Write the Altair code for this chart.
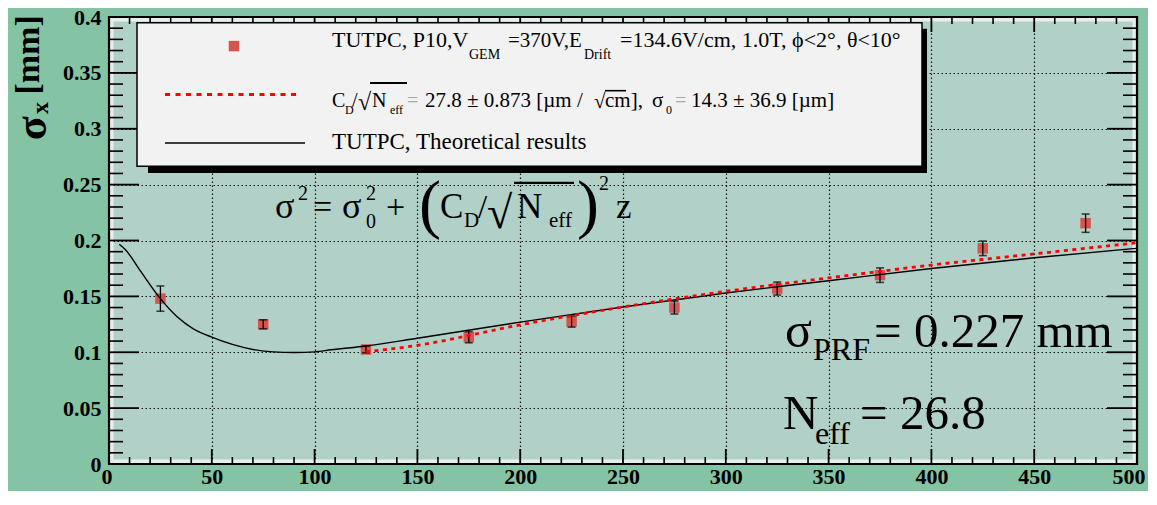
import altair as alt
import pandas as pd

# ---------------- data ----------------
z_meas = [25, 75, 125, 175, 225, 275, 325, 375, 425, 475]
sigma_meas = [0.148, 0.125, 0.1025, 0.1135, 0.1275, 0.140, 0.157, 0.169, 0.193, 0.2155]
sigma_err = [0.0113, 0.004, 0.003, 0.005, 0.005, 0.0058, 0.0058, 0.0065, 0.0065, 0.0082]

z_theory = [5, 8, 15, 25, 33, 41, 50, 60, 70, 80, 90, 100, 108, 125, 150, 200, 250, 300, 350, 400, 450, 500]
sigma_theory = [0.1967, 0.1918, 0.1735, 0.148, 0.132, 0.121, 0.1135, 0.107, 0.1025, 0.1003, 0.0998,
                0.1003, 0.1022, 0.1056, 0.1125, 0.127, 0.1405, 0.153, 0.164, 0.175, 0.1845, 0.193]

z_fit = [125, 150, 200, 250, 300, 350, 400, 450, 500]
sigma_fit = [0.1003, 0.1062, 0.1245, 0.1405, 0.1545, 0.1665, 0.178, 0.188, 0.198]

x_major = [0, 50, 100, 150, 200, 250, 300, 350, 400, 450, 500]
x_minor = [v for v in range(0, 501, 10) if v % 50]
y_major = [0, 0.05, 0.1, 0.15, 0.2, 0.25, 0.3, 0.35, 0.4]
y_minor = [round(i * 0.01, 2) for i in range(41) if i % 5]

# ---------------- layout ----------------
W, H = 1028, 447
SY = H / 461.0
SERIF = "Liberation Serif"
BG = "#85c3a5"
PLOT_BG = "#b0d0c8"
MARK_RED = "#d65450"


def X(rx):
    return rx - 109


def Y(ry):
    return (ry - 18) * SY


xs = alt.Scale(domain=[0, 500], nice=False, zero=False)
ys = alt.Scale(domain=[0, 0.4], nice=False, zero=False)

xaxis = alt.Axis(values=x_major, format="d", grid=True, ticks=False, domain=False,
                 labelFont=SERIF, labelFontSize=22, labelFontWeight="bold", labelColor="black",
                 labelPadding=2, gridColor="black", gridDash=[1.5, 2.5], gridWidth=1.2,
                 gridOpacity=0.9, labelFlush=True, labelFlushOffset=8, labelOverlap=False)
yaxis = alt.Axis(values=y_major, format=".2~f", grid=True, ticks=False, domain=False,
                 labelFont=SERIF, labelFontSize=22, labelFontWeight="bold", labelColor="black",
                 labelPadding=8, gridColor="black", gridDash=[1.5, 2.5], gridWidth=1.2,
                 gridOpacity=0.9, labelFlush=False, labelOverlap=False)


def XE(f):
    return alt.X(f, scale=xs, axis=xaxis, title=None)


def YE(f):
    return alt.Y(f, scale=ys, axis=yaxis, title=None)


meas = pd.DataFrame({"z": z_meas, "s": sigma_meas, "e": sigma_err})
meas["lo"] = meas["s"] - meas["e"]
meas["hi"] = meas["s"] + meas["e"]
theory = pd.DataFrame({"z": z_theory, "s": sigma_theory})
fit = pd.DataFrame({"z": z_fit, "s": sigma_fit})
one = pd.DataFrame({"a": [0]})

layers = []

# inner light strip of the frame
layers.append(alt.Chart(one).mark_rect(filled=False, stroke="#e6efeb", strokeWidth=4).encode(
    x=alt.value(2.5), x2=alt.value(W - 2.5), y=alt.value(2.5), y2=alt.value(H - 2.5)))

# measured points
layers.append(alt.Chart(meas).mark_square(size=110, color=MARK_RED, opacity=1).encode(
    x=XE("z:Q"), y=YE("s:Q")))
layers.append(alt.Chart(meas).mark_rule(color="black", strokeWidth=1.3).encode(
    x=XE("z:Q"), y=YE("lo:Q"), y2="hi:Q"))
layers.append(alt.Chart(meas).mark_tick(orient="horizontal", size=8, thickness=1.6, color="black").encode(
    x=XE("z:Q"), y=YE("lo:Q")))
layers.append(alt.Chart(meas).mark_tick(orient="horizontal", size=8, thickness=1.6, color="black").encode(
    x=XE("z:Q"), y=YE("hi:Q")))

# theory curve and fit
layers.append(alt.Chart(theory).mark_line(color="black", strokeWidth=1.4, interpolate="monotone").encode(
    x=XE("z:Q"), y=YE("s:Q"), order="z:Q"))
layers.append(alt.Chart(fit).mark_line(color="#ff0000", strokeWidth=2.8, strokeDash=[4, 4.5],
                                       interpolate="monotone").encode(
    x=XE("z:Q"), y=YE("s:Q"), order="z:Q"))


# ticks (ROOT style, inside)
def xticks(vals, length, width):
    df = pd.DataFrame({"v": vals})
    bot = alt.Chart(df).mark_rule(color="black", strokeWidth=width).encode(
        x=XE("v:Q"), y=alt.value(H), y2=alt.value(H - length))
    top = alt.Chart(df).mark_rule(color="black", strokeWidth=width).encode(
        x=XE("v:Q"), y=alt.value(0), y2=alt.value(length))
    return [bot, top]


def yticks(vals, length, width):
    df = pd.DataFrame({"v": vals})
    left = alt.Chart(df).mark_rule(color="black", strokeWidth=width).encode(
        y=YE("v:Q"), x=alt.value(0), x2=alt.value(length))
    right = alt.Chart(df).mark_rule(color="black", strokeWidth=width).encode(
        y=YE("v:Q"), x=alt.value(W), x2=alt.value(W - length))
    return [left, right]


layers += xticks(x_major, 15, 1.8)
layers += xticks(x_minor, 7, 1.6)
layers += yticks(y_major, 30, 1.8)
layers += yticks(y_minor, 14, 1.6)

# frame
layers.append(alt.Chart(one).mark_rect(filled=False, stroke="black", strokeWidth=2.2).encode(
    x=alt.value(0), x2=alt.value(W), y=alt.value(0), y2=alt.value(H)))

# legend box with shadow
layers.append(alt.Chart(one).mark_rect(color="black").encode(
    x=alt.value(X(148)), x2=alt.value(X(927)), y=alt.value(Y(30)), y2=alt.value(Y(179))))
layers.append(alt.Chart(one).mark_rect(fill="#f2f2f2", stroke="black", strokeWidth=1.5).encode(
    x=alt.value(X(137)), x2=alt.value(X(922)), y=alt.value(Y(24)), y2=alt.value(Y(172))))
layers.append(alt.Chart(one).mark_square(size=110, color=MARK_RED, opacity=1).encode(
    x=alt.value(X(234)), y=alt.value(Y(48))))
layers.append(alt.Chart(one).mark_rule(color="#ff0000", strokeWidth=3, strokeDash=[5, 5.5]).encode(
    x=alt.value(X(165)), x2=alt.value(X(300)), y=alt.value(Y(98))))
layers.append(alt.Chart(one).mark_rule(color="black", strokeWidth=1.5).encode(
    x=alt.value(X(165)), x2=alt.value(X(305)), y=alt.value(Y(148))))


def txt(s, rx, ry, size, weight="normal", color="black", angle=0):
    return alt.Chart(one).mark_text(text=s, font=SERIF, fontSize=size, fontWeight=weight, color=color,
                                    align="left", baseline="alphabetic", angle=angle).encode(
        x=alt.value(X(rx)), y=alt.value(Y(ry)))


def hline(rx1, rx2, ry, width=1.6):
    return alt.Chart(one).mark_rule(color="black", strokeWidth=width).encode(
        x=alt.value(X(rx1)), x2=alt.value(X(rx2)), y=alt.value(Y(ry)))


GREY = "#a8a8a8"
# legend line 1
layers += [
    txt("TUTPC, P10,V", 332, 49, 22),
    txt("GEM", 469, 61, 14),
    txt("=370V,E", 508, 49, 21),
    txt("Drift", 584, 61, 14),
    txt("=134.6V/cm, 1.0T, ϕ<2°, θ<10°", 620, 49, 22),
]
# legend line 2
layers += [
    txt("C", 332, 111, 20),
    txt("D", 345, 118, 12),
    txt("/", 352, 111, 20),
    txt("√", 358, 114, 24),
    hline(370, 407, 86, 2),
    txt("N", 372, 111, 20),
    txt("eff", 390, 118, 12),
    txt("=", 407, 111, 20, color=GREY),
    txt("27.8 ± 0.873 [µm / ", 425, 111, 21),
    txt("√", 594, 112, 21),
    hline(605, 626, 94, 1.6),
    txt("cm],", 605, 111, 21),
    txt("σ", 652, 111, 21),
    txt("0", 666, 118, 12),
    txt("=", 675, 111, 20, color=GREY),
    txt("14.3 ±  36.9 [µm]", 691, 111, 21),
]
# legend line 3
layers.append(txt("TUTPC, Theoretical results", 332, 154, 23))

# big formula
layers += [
    txt("σ", 275, 225, 36),
    txt("2", 298, 207, 20),
    txt("=", 313, 225, 34),
    txt("σ", 342, 225, 36),
    txt("2", 366, 207, 20),
    txt("0", 366, 236, 20),
    txt("+", 386, 225, 34),
    txt("(", 419, 234, 66),
    txt("C", 440, 225, 35),
    txt("D", 464, 235, 21),
    txt("/", 478, 225, 33),
    txt("√", 487, 236, 46),
    hline(514, 574, 189, 2.2),
    txt("N", 517, 225, 35),
    txt("eff", 549, 235, 21),
    txt(")", 577, 234, 66),
    txt("2", 599, 196, 20),
    txt("z", 616, 225, 35),
]
# sigma_PRF and N_eff
layers += [
    txt("σ", 785, 358, 50),
    txt("PRF", 813, 372, 32),
    txt("= 0.227 mm", 874, 358, 49),
    txt("N", 783, 443, 49),
    txt("eff", 815, 458, 32),
    txt("= 26.8", 860, 443, 49),
]
# y-axis title (rotated)
layers += [
    txt("σ", 46, 145, 44, weight="bold", angle=270),
    txt("x", 48, 118, 24, weight="bold", angle=270),
    txt("[mm]", 39, 98, 34, weight="bold", angle=270),
]

chart = alt.layer(*layers).properties(
    width=W, height=H,
    padding={"left": 101, "top": 9, "right": 11, "bottom": 27},
    autosize=alt.AutoSizeParams(type="none"),
).configure(background=BG).configure_view(fill=PLOT_BG, stroke="black", strokeWidth=2)

chart.save("out.html", embed_options={"renderer": "svg", "actions": False})
